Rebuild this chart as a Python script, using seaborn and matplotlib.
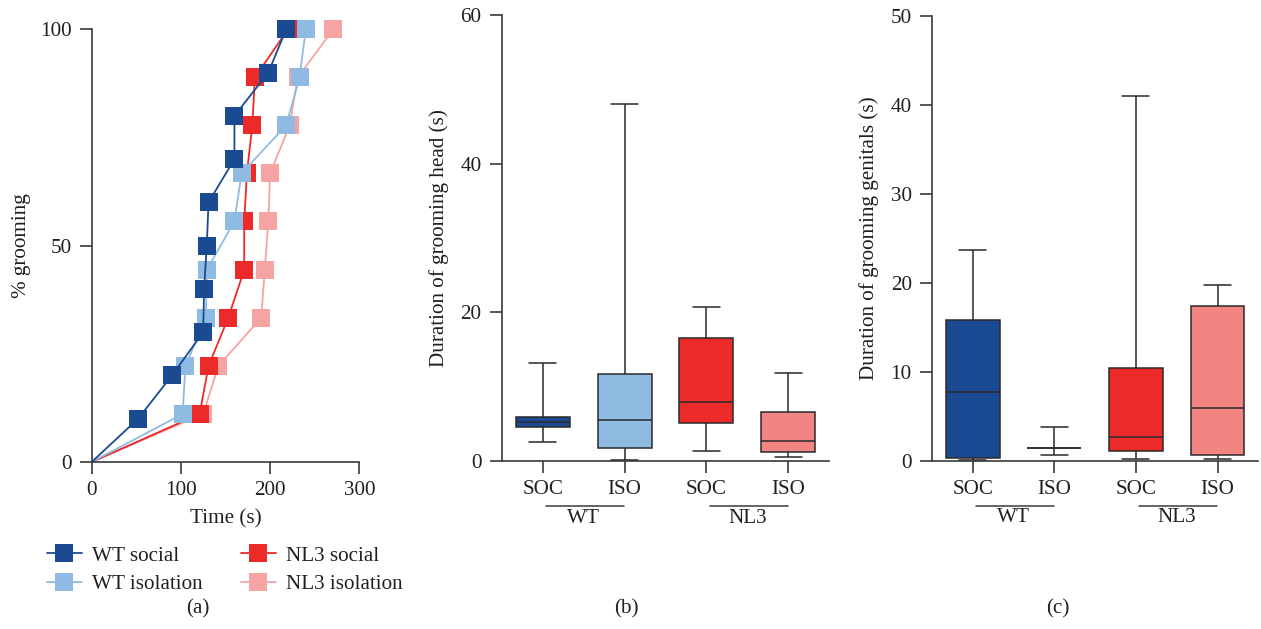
import numpy as np
import pandas as pd
import matplotlib
matplotlib.use("Agg")
import matplotlib.pyplot as plt
from matplotlib.lines import Line2D
from matplotlib.transforms import blended_transform_factory
import seaborn as sns

# ---------------- data ----------------
# panel (a): cumulative % grooming vs time
wt_social_t = [0, 52, 90, 125, 126, 129, 131, 160, 160, 198, 218]
wt_social_pct = [0, 10, 20, 30, 40, 50, 60, 70, 80, 90, 100]
wt_iso_t = [0, 102, 105, 128, 129, 160, 168, 218, 233, 240]
wt_iso_pct = [0, 11.1, 22.2, 33.3, 44.4, 55.6, 66.7, 77.8, 88.9, 100]
nl3_soc_t = [0, 121, 131, 153, 171, 171, 174, 180, 183, 220]
nl3_soc_pct = [0, 11.1, 22.2, 33.3, 44.4, 55.6, 66.7, 77.8, 88.9, 100]
nl3_iso_t = [0, 125, 142, 190, 194, 198, 200, 222, 231, 271]
nl3_iso_pct = [0, 11.1, 22.2, 33.3, 44.4, 55.6, 66.7, 77.8, 88.9, 100]

# panels (b),(c): box summaries [min, q1, median, q3, max]
conditions = ["WT SOC", "WT ISO", "NL3 SOC", "NL3 ISO"]
tick_labels = ["SOC", "ISO", "SOC", "ISO"]
groups = ["WT", "NL3"]
head_wt_soc = [2.5, 4.6, 5.3, 5.95, 13.2]
head_wt_iso = [0.15, 1.7, 5.5, 11.7, 48.0]
head_nl3_soc = [1.4, 5.1, 8.0, 16.5, 20.7]
head_nl3_iso = [0.6, 1.2, 2.7, 6.6, 11.8]
gen_wt_soc = [0.1, 0.3, 7.7, 15.85, 23.7]
gen_wt_iso = [0.7, 1.45, 1.45, 1.45, 3.8]
gen_nl3_soc = [0.25, 1.15, 2.7, 10.45, 41.0]
gen_nl3_iso = [0.25, 0.65, 6.0, 17.4, 19.8]

# ---------------- style ----------------
sns.set_style("ticks")
plt.rcParams["font.family"] = ["Liberation Serif", "DejaVu Serif"]
FS = 15.2
plt.rcParams["font.size"] = FS
TXT = "#231f20"
AX = "#3a3a3a"
plt.rcParams.update({
    "text.color": TXT, "axes.labelcolor": TXT,
    "xtick.color": AX, "ytick.color": AX,
    "xtick.labelcolor": TXT, "ytick.labelcolor": TXT,
    "axes.edgecolor": AX, "axes.linewidth": 1.2,
    "xtick.major.width": 1.2, "ytick.major.width": 1.2,
    "xtick.major.size": 8.6, "ytick.major.size": 8.6,
    "xtick.major.pad": 5.0, "ytick.major.pad": 6,
    "xtick.direction": "out", "ytick.direction": "out",
    "xtick.labelsize": FS, "ytick.labelsize": FS, "axes.labelsize": FS,
})

c_wt_soc = "#1a4a92"
c_wt_iso = "#8fbbe3"
c_nl3_soc = "#ec2a2a"
c_nl3_iso_line = "#f5a3a3"
c_nl3_iso_box = "#f28482"

W, H = 1261, 629
fig = plt.figure(figsize=(W / 100, H / 100), dpi=100)

def axes_px(left, right, top, bottom):
    return fig.add_axes([left / W, 1 - bottom / H, (right - left) / W, (bottom - top) / H])

# ---------------- panel (a) ----------------
axa = axes_px(91.7, 359.3, 29.3, 462)
series = [
    ("NL3 isolation", nl3_iso_t, nl3_iso_pct, c_nl3_iso_line),
    ("NL3 social", nl3_soc_t, nl3_soc_pct, c_nl3_soc),
    ("WT isolation", wt_iso_t, wt_iso_pct, c_wt_iso),
    ("WT social", wt_social_t, wt_social_pct, c_wt_soc),
]
for name, t, p, col in series:
    sns.lineplot(x=t, y=p, ax=axa, estimator=None, sort=False, color=col,
                 linewidth=1.3, marker="s", markersize=13, markeredgewidth=0,
                 markevery=slice(1, None), clip_on=False)
axa.set_xlim(0, 300)
axa.set_ylim(0, 100)
axa.set_xticks([0, 100, 200, 300])
axa.set_yticks([0, 50, 100])
axa.set_xlabel("Time (s)", labelpad=7)
axa.set_ylabel("% grooming", labelpad=6)
sns.despine(ax=axa)

handles = [
    Line2D([], [], color=c_wt_soc, lw=1.3, marker="s", markersize=13, markeredgewidth=0),
    Line2D([], [], color=c_wt_iso, lw=1.3, marker="s", markersize=13, markeredgewidth=0),
    Line2D([], [], color=c_nl3_soc, lw=1.3, marker="s", markersize=13, markeredgewidth=0),
    Line2D([], [], color=c_nl3_iso_line, lw=1.3, marker="s", markersize=13, markeredgewidth=0),
]
labels = ["WT social", "WT isolation", "NL3 social", "NL3 isolation"]
fig.legend(handles, labels, ncol=2, loc="upper left", frameon=False,
           bbox_to_anchor=(47 / W, 1 - 546 / H), bbox_transform=fig.transFigure,
           borderpad=0, borderaxespad=0, handlelength=1.65, handletextpad=0.5,
           columnspacing=1.8, labelspacing=0.42, fontsize=FS)

# ---------------- panels (b), (c) ----------------
def box_panel(ax, vals, ymax, yticks, ylabel):
    rows = []
    for cond, v in zip(conditions, vals):
        for x in v:
            rows.append({"cond": cond, "val": x})
    df = pd.DataFrame(rows)
    pal = {conditions[0]: c_wt_soc, conditions[1]: c_wt_iso,
           conditions[2]: c_nl3_soc, conditions[3]: c_nl3_iso_box}
    sns.boxplot(data=df, x="cond", y="val", hue="cond", order=conditions,
                hue_order=conditions, palette=pal, whis=(0, 100), width=0.66,
                saturation=1, linecolor="#2a2a2a", linewidth=1.1, legend=False,
                showfliers=False, ax=ax)
    ax.set_xlim(-0.5, 3.5)
    ax.set_ylim(0, ymax)
    ax.set_yticks(yticks)
    ax.set_xticks(range(len(conditions)))
    ax.set_xticklabels(tick_labels)
    ax.set_xlabel("")
    ax.set_ylabel(ylabel, labelpad=8)
    sns.despine(ax=ax)
    tr = blended_transform_factory(ax.transData, ax.transAxes)
    for gi, g in enumerate(groups):
        a, b = 2 * gi, 2 * gi + 1
        ax.plot([a + 0.04, b - 0.01], [-0.101, -0.101], transform=tr, color=AX,
                lw=1.1, clip_on=False)
        ax.text((a + b) / 2, -0.128, g, transform=tr, ha="center", va="center",
                fontsize=FS)

axb = axes_px(501.7, 829.3, 15.3, 461)
box_panel(axb, [head_wt_soc, head_wt_iso, head_nl3_soc, head_nl3_iso], 60,
          [0, 20, 40, 60], "Duration of grooming head (s)")

axc = axes_px(932, 1258.3, 15.7, 461)
box_panel(axc, [gen_wt_soc, gen_wt_iso, gen_nl3_soc, gen_nl3_iso], 50,
          [0, 10, 20, 30, 40, 50], "Duration of grooming genitals (s)")

# panel letters
for lab, xp in [("(a)", 198), ("(b)", 626), ("(c)", 1058)]:
    fig.text(xp / W, 1 - 609 / H, lab, ha="center", va="center", fontsize=FS)

fig.savefig("out.png", dpi=100)
